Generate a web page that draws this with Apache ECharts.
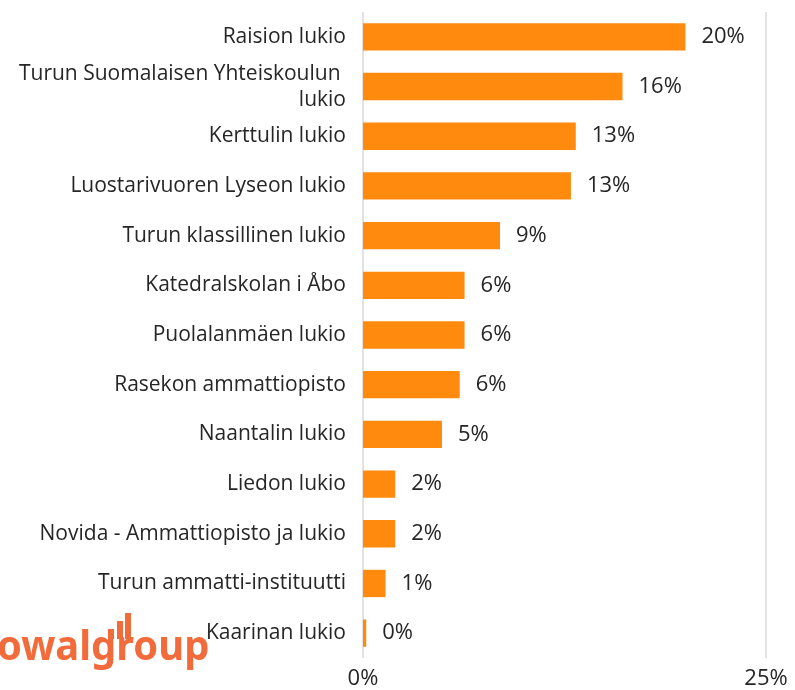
<!DOCTYPE html>
<html><head><meta charset="utf-8">
<script src="https://cdn.jsdelivr.net/npm/echarts@6/dist/echarts.min.js"></script>
<style>html,body{margin:0;padding:0;background:#fff}#c{width:795px;height:690px}</style>
</head><body><div id="c"></div>
<script>
const categories = ["Raision lukio","Turun Suomalaisen Yhteiskoulun lukio","Kerttulin lukio","Luostarivuoren Lyseon lukio","Turun klassillinen lukio","Katedralskolan i Åbo","Puolalanmäen lukio","Rasekon ammattiopisto","Naantalin lukio","Liedon lukio","Novida - Ammattiopisto ja lukio","Turun ammatti-instituutti","Kaarinan lukio"];
const values = [20.0, 16.1, 13.2, 12.9, 8.5, 6.3, 6.3, 6.0, 4.9, 2.0, 2.0, 1.4, 0.2];
const xTicks = [0, 25];
const FONT = "Open Sans";
const LOGO = '#F26B3A';
const chart = echarts.init(document.getElementById('c'));
chart.setOption({
  animation:false,
  textStyle:{fontFamily:FONT},
  grid:{left:363,right:29,top:12,bottom:32,containLabel:false},
  xAxis:{type:'value',min:xTicks[0],max:xTicks[1],interval:25,
    axisLine:{show:false},axisTick:{show:false},
    splitLine:{show:true,lineStyle:{color:'#d9d9d9',width:1.5}},
    axisLabel:{formatter:'{value}%',color:'#262626',fontSize:22,fontFamily:FONT,margin:10}},
  yAxis:{type:'category',data:categories,inverse:true,
    axisLine:{show:false},axisTick:{show:false},
    axisLabel:{color:'#262626',fontSize:21,fontFamily:FONT,margin:17,width:340,overflow:'break',lineHeight:26,align:'right'}},
  series:[{type:'bar',data:values,barCategoryGap:'45%',
    itemStyle:{color:'#FF8A0D'},
    label:{show:true,position:'right',distance:16,color:'#262626',fontSize:22,fontFamily:FONT,
      formatter:p=>Math.round(p.value)+'%'}}],
  graphic:[
    {type:'text',x:-3,y:627,scaleX:0.95,z:-1,style:{text:'owalgroup',fill:LOGO,font:'bold 42px "Noto Sans"'}},
    {type:'rect',z:-1,shape:{x:108,y:629,width:6,height:10},style:{fill:LOGO}},
    {type:'rect',z:-1,shape:{x:117,y:621,width:6,height:18},style:{fill:LOGO}},
    {type:'rect',z:-1,shape:{x:125,y:613,width:6,height:26},style:{fill:LOGO}}
  ]
});
</script></body></html>
